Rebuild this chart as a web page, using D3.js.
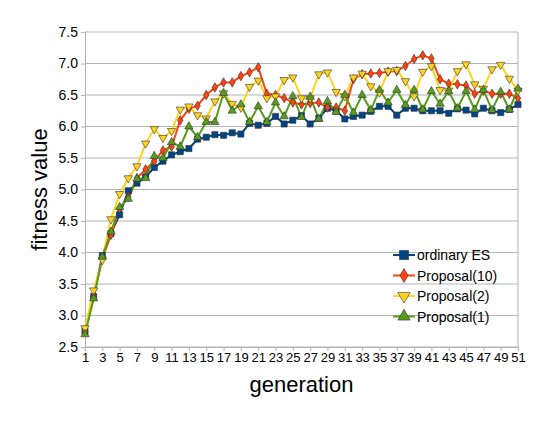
<!DOCTYPE html>
<html><head><meta charset="utf-8">
<script src="https://cdn.jsdelivr.net/npm/d3@7"></script>
<style>body{margin:0;background:#fff}</style>
</head><body><div id="chart"></div>
<script>
const generations = d3.range(1, 52);
const yTicks = [2.5, 3.0, 3.5, 4.0, 4.5, 5.0, 5.5, 6.0, 6.5, 7.0, 7.5];
const ordinaryES = [2.75,3.3,3.95,4.3,4.6,4.98,5.1,5.2,5.35,5.45,5.55,5.6,5.65,5.8,5.83,5.87,5.86,5.9,5.88,6.05,6.02,6.05,6.16,6.04,6.1,6.17,6.04,6.13,6.29,6.25,6.12,6.16,6.18,6.24,6.32,6.32,6.18,6.29,6.29,6.25,6.25,6.25,6.21,6.28,6.26,6.2,6.29,6.25,6.22,6.27,6.35];
const proposal10 = [2.75,3.3,3.9,4.28,4.7,4.88,5.18,5.32,5.45,5.62,5.68,6.1,6.28,6.33,6.5,6.62,6.7,6.7,6.8,6.86,6.94,6.52,6.5,6.45,6.38,6.35,6.37,6.38,6.3,6.3,6.25,6.75,6.83,6.84,6.85,6.87,6.88,6.96,7.07,7.13,7.08,6.75,6.68,6.67,6.65,6.52,6.57,6.52,6.52,6.52,6.45];
const proposal2 = [2.8,3.4,3.88,4.53,4.93,5.18,5.37,5.73,5.96,5.82,5.93,6.27,6.32,6.18,6.13,6.4,6.53,6.36,6.3,6.63,6.73,6.45,6.48,6.74,6.78,6.45,6.45,6.83,6.86,6.55,6.48,6.78,6.84,6.64,6.54,6.88,6.9,6.72,6.48,6.87,6.96,6.58,6.57,6.88,6.99,6.67,6.6,6.91,6.98,6.76,6.57];
const proposal1 = [2.7,3.27,3.93,4.33,4.72,4.85,5.17,5.18,5.53,5.5,5.75,5.68,6.0,5.83,6.07,6.07,6.53,6.25,6.35,6.07,6.32,6.07,6.38,6.16,6.48,6.15,6.47,6.12,6.4,6.23,6.5,6.22,6.5,6.26,6.58,6.38,6.58,6.34,6.58,6.27,6.56,6.36,6.56,6.29,6.56,6.27,6.58,6.26,6.55,6.27,6.6];

const series = [
  {name: "ordinary ES", values: ordinaryES, color: "#004586", sym: d3.symbolSquare, size: 38, rot: 0},
  {name: "Proposal(10)", values: proposal10, color: "#ff420e", sym: d3.symbolDiamond, size: 26, rot: 0},
  {name: "Proposal(2)", values: proposal2, color: "#ffd320", sym: d3.symbolTriangle, size: 30, rot: 180},
  {name: "Proposal(1)", values: proposal1, color: "#579d1c", sym: d3.symbolTriangle, size: 30, rot: 0}
];

const W = 556, H = 422;
const m = {left: 85, right: 38, top: 32, bottom: 75};
const svg = d3.select('#chart').append('svg').attr('width', W).attr('height', H)
  .style('font-family', 'Liberation Sans, Arial, sans-serif');

const x = d3.scaleLinear().domain([1, 51]).range([m.left, W - m.right]);
const y = d3.scaleLinear().domain([2.5, 7.5]).range([H - m.bottom, m.top]);

// grid
svg.append('g').selectAll('line').data(yTicks).join('line')
  .attr('x1', m.left).attr('x2', W - m.right)
  .attr('y1', d => y(d)).attr('y2', d => y(d))
  .attr('stroke', '#b3b3b3').attr('stroke-width', 1);
svg.append('line').attr('x1', W - m.right).attr('x2', W - m.right)
  .attr('y1', m.top).attr('y2', H - m.bottom).attr('stroke', '#b3b3b3');

// axes
const yAxis = svg.append('g').attr('transform', `translate(${m.left},0)`)
  .call(d3.axisLeft(y).tickValues(yTicks).tickFormat(d3.format('.1f')).tickSize(4));
yAxis.selectAll('text').attr('font-size', 14).attr('fill', '#000');
yAxis.selectAll('line,path').attr('stroke', '#b3b3b3');

const xAxis = svg.append('g').attr('transform', `translate(0,${H - m.bottom})`)
  .call(d3.axisBottom(x).tickValues(generations.filter(d => d % 2 === 1)).tickFormat(d3.format('d')).tickSize(4));
xAxis.selectAll('text').attr('font-size', 13).attr('fill', '#000').attr('dy', '0.6em');
xAxis.selectAll('line,path').attr('stroke', '#b3b3b3');

// lines & markers
const line = d3.line().x((d, i) => x(generations[i])).y(d => y(d));
series.forEach(s => {
  svg.append('path').datum(s.values).attr('fill', 'none')
    .attr('stroke', s.color).attr('stroke-width', 2).attr('d', line);
});
series.forEach(s => {
  svg.append('g').selectAll('path').data(s.values).join('path')
    .attr('d', d3.symbol().type(s.sym).size(s.size))
    .attr('transform', (d, i) => `translate(${x(generations[i])},${y(d)}) rotate(${s.rot})`)
    .attr('fill', s.color).attr('stroke', '#333').attr('stroke-width', 0.6);
});

// titles
svg.append('text').attr('x', (m.left + W - m.right) / 2).attr('y', 392)
  .attr('text-anchor', 'middle').attr('font-size', 22).text('generation');
svg.append('text').attr('transform', `translate(47,${(m.top + H - m.bottom) / 2}) rotate(-90)`)
  .attr('text-anchor', 'middle').attr('font-size', 22).text('fitness value');

// legend
const lg = svg.append('g').attr('transform', 'translate(393,255)');
series.forEach((s, i) => {
  const g = lg.append('g').attr('transform', `translate(0,${i * 20.5})`);
  g.append('line').attr('x1', 0).attr('x2', 22).attr('stroke', s.color).attr('stroke-width', 2);
  g.append('path').attr('d', d3.symbol().type(s.sym).size(s.size * 2.2)())
    .attr('transform', `translate(11,0) rotate(${s.rot})`)
    .attr('fill', s.color).attr('stroke', '#333').attr('stroke-width', 0.6);
  g.append('text').attr('x', 24).attr('y', 5).attr('font-size', 14).text(s.name);
});
</script></body></html>
